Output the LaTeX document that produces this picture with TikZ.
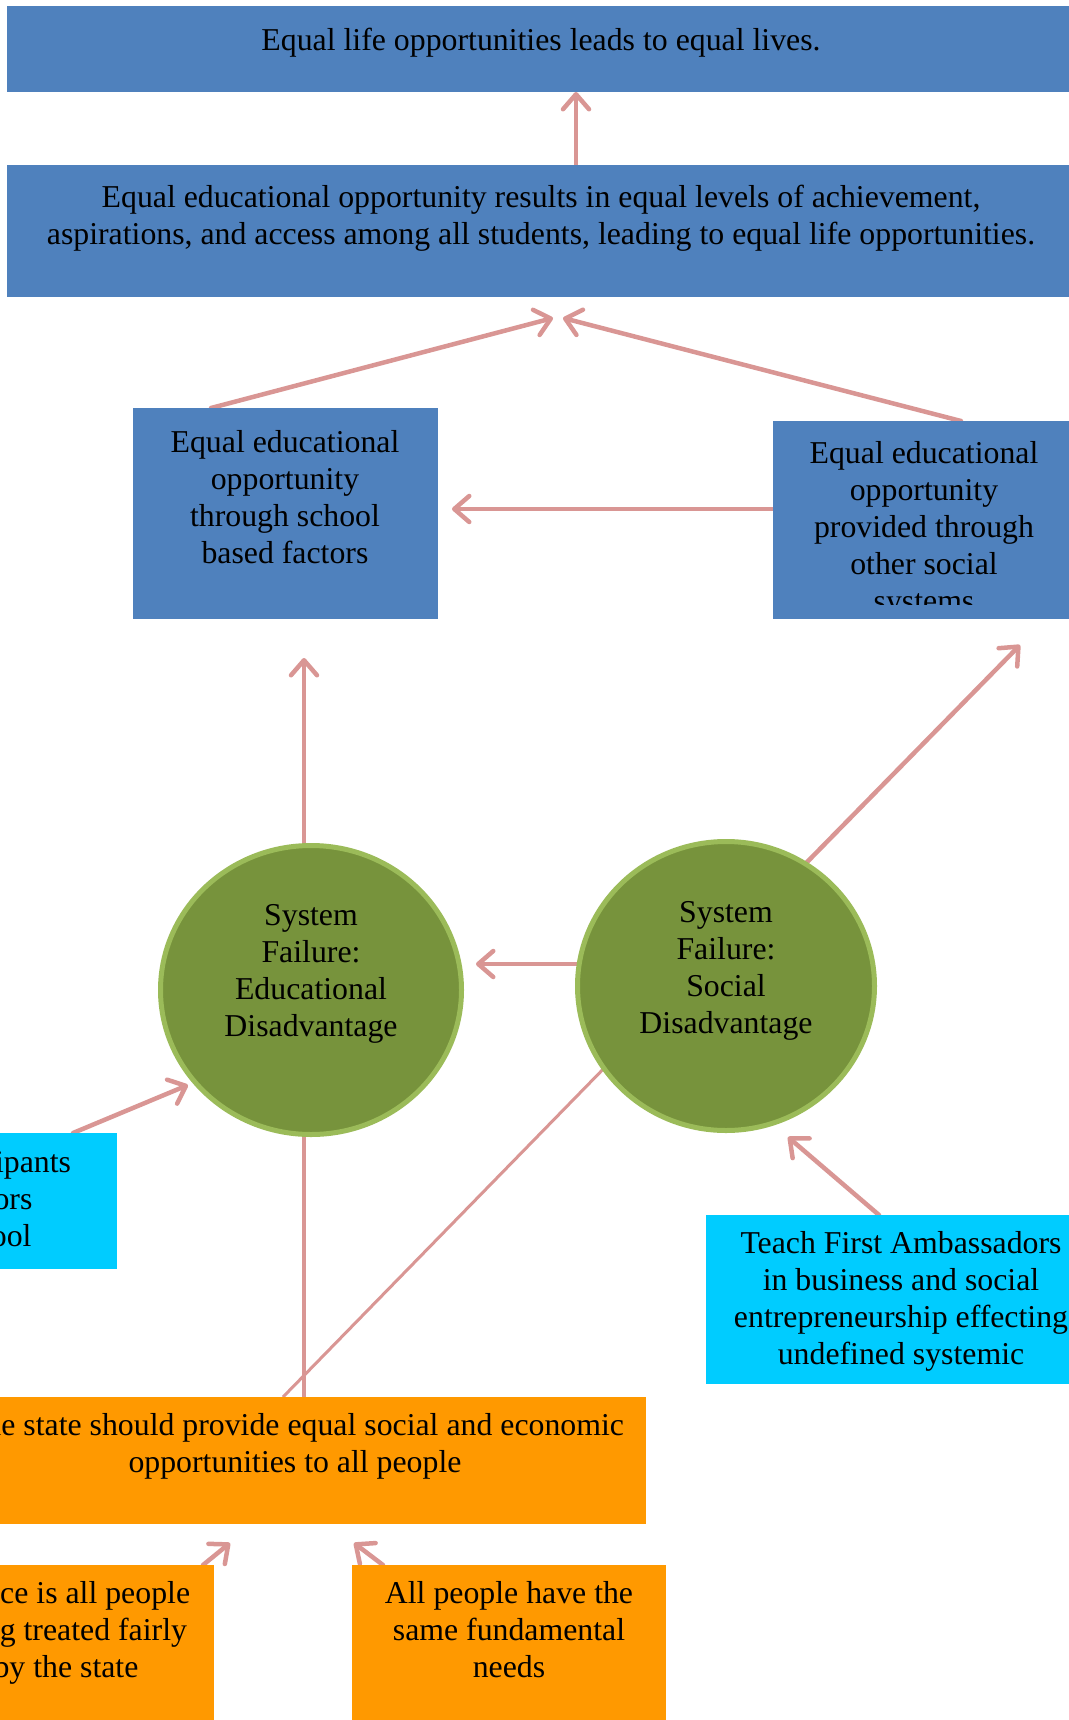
\documentclass[tikz,border=0pt]{standalone}
\usepackage{fontspec}
\setmainfont{Liberation Serif}
\usetikzlibrary{arrows.meta,shapes.geometric,backgrounds}

\definecolor{boxblue}{HTML}{4F81BD}
\definecolor{boxcyan}{HTML}{00CCFF}
\definecolor{boxorange}{HTML}{FF9900}
\definecolor{discfill}{HTML}{77933C}
\definecolor{discrim}{HTML}{9BBB59}
\definecolor{linkpink}{HTML}{D99694}

\tikzset{
  panel/.style={draw=none, inner sep=0pt, outer sep=0pt, anchor=north west},
  bluepanel/.style={panel, fill=boxblue},
  cyanpanel/.style={panel, fill=boxcyan},
  orangepanel/.style={panel, fill=boxorange},
  disc/.style={ellipse, fill=discfill, draw=discrim, line width=5pt, inner sep=0pt, outer sep=0pt},
  words/.style={inner sep=0pt, anchor=north, align=center, font=\fontsize{31.8}{37}\selectfont},
  link/.style={draw=linkpink, line width=4.5pt, line cap=round,
               -{Straight Barb[length=15pt,width=26pt,round]}},
  tie/.style={draw=linkpink, line width=4.5pt},
  thintie/.style={draw=linkpink, line width=3pt},
}

\begin{document}
\begin{tikzpicture}[x=1pt,y=-1pt]
\useasboundingbox (0,0) rectangle (1068,1720);

% outcome boxes
\node[bluepanel, minimum width=1068pt, minimum height=86pt] (lives) at (7,6) {};
\node[words] (lives-t) at (541,24.1) {\strut Equal life opportunities leads to equal lives.};

\node[bluepanel, minimum width=1068pt, minimum height=132pt] (edu) at (7,165) {};
\node[words] (edu-t) at (541,181.1) {\strut Equal educational opportunity results in equal levels of achievement,\\
  aspirations, and access among all students, leading to equal life opportunities.};

\node[bluepanel, minimum width=305pt, minimum height=211pt] (school) at (133,408) {};
\node[words] (school-t) at (285,426.1) {\strut Equal educational\\opportunity\\through school\\based factors};

\node[bluepanel, minimum width=302pt, minimum height=198pt] (social) at (773,421) {};
\begin{scope}
  \clip (773,421) rectangle (1075,604);
  \node[words] (social-t) at (924,437.1) {\strut Equal educational\\opportunity\\provided through\\other social\\systems};
\end{scope}

% system failures
\node[disc, minimum width=301pt, minimum height=289pt] (edfail) at (311,990) {};
\node[words] (edfail-t) at (311,899.1) {\strut System\\Failure:\\Educational\\Disadvantage};

\node[disc, minimum width=297pt, minimum height=289pt] (socfail) at (726,986) {};
\node[words] (socfail-t) at (726,896.1) {\strut System\\Failure:\\Social\\Disadvantage};

% Teach First interventions
\node[cyanpanel, minimum width=390pt, minimum height=136pt] (tfp) at (-273,1133) {};
\node[words] (tfp-t) at (-78,1146.1) {\strut Teach First participants\\working as tutors\\within the school};

\node[cyanpanel, minimum width=390pt, minimum height=169pt] (tfa) at (706,1215) {};
\node[words] (tfa-t) at (901,1227.1) {\strut Teach First Ambassadors\\in business and social\\entrepreneurship effecting\\undefined systemic};

% beliefs
\node[orangepanel, minimum width=702pt, minimum height=127pt] (state) at (-56,1397) {};
\node[words] (state-t) at (295,1409.1) {\strut The state should provide equal social and economic\\opportunities to all people};

\node[orangepanel, minimum width=296pt, minimum height=170pt] (just) at (-82,1565) {};
\node[words] (just-t) at (66,1577.1) {\strut Justice is all people\\being treated fairly\\by the state};

\node[orangepanel, minimum width=314pt, minimum height=170pt] (needs) at (352,1565) {};
\node[words] (needs-t) at (509,1577.1) {\strut All people have the\\same fundamental\\needs};

% free ends of the connectors
\coordinate (tipL) at (553,318);
\coordinate (tipR) at (563,318);
\coordinate (tipS) at (452,509);
\coordinate (tipE) at (304,658);
\coordinate (tipF) at (1020,645);
\coordinate (tipC) at (476,964);
\coordinate (tipP) at (188,1085);
\coordinate (tipA) at (788,1137);
\coordinate (tipJ) at (230,1543);
\coordinate (tipN) at (354,1543);

\begin{scope}[on background layer]
  \draw[link] (576,0 |- edu.north) -- (576,0 |- lives.south);
  \draw[link] (211,0 |- school.north) -- (tipL);
  \draw[link] (961,0 |- social.north) -- (tipR);
  \draw[link] (social.west |- 0,509) -- (tipS);
  \draw[link] (304,0 |- edfail.north) -- (tipE);
  \draw[link] (socfail.57) -- (tipF);
  \draw[link] (socfail.center |- 0,964) -- (tipC);
  \draw[link] (73,0 |- tfp.north) -- (tipP);
  \draw[link] (879,0 |- tfa.north) -- (tipA);
  \draw[tie] (304,0 |- state.north) -- (304,0 |- edfail.center);
  \draw[thintie] (283,0 |- state.north) -- (socfail.214);
  \draw[link] (203,0 |- just.north) -- (tipJ);
  \draw[link] (383,0 |- needs.north) -- (tipN);
\end{scope}
\end{tikzpicture}
\end{document}
